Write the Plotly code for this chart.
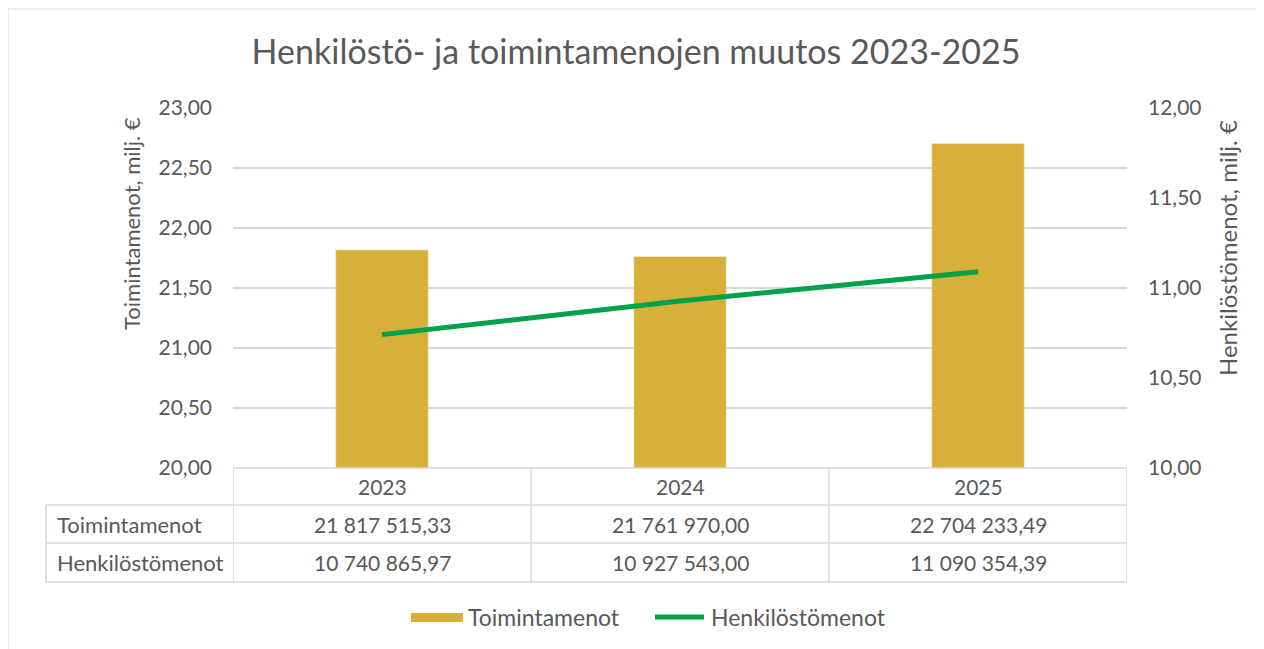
import plotly.graph_objects as go

# Datos del gráfico (euros)
vuodet = ["2023", "2024", "2025"]
toimintamenot = [21817515.33, 21761970.00, 22704233.49]
henkilostomenot = [10740865.97, 10927543.00, 11090354.39]

rivit = ["Toimintamenot", "Henkilöstömenot"]

KULTA = "#D6B038"
VIHREA = "#00A249"
HARMAA = "#595959"
VIIVA = "#D9D9D9"
FONTTI = "Lato, sans-serif"

# Medidas en píxeles de la captura (la página tiene 8 px de margen)
OFF = 8
W, H = 1264 - OFF, 649 - OFF
L, R, T, B = 233, 1127, 108, 468
pw, ph = R - L, B - T


def px_x(x):
    return (x - L) / pw


def px_y(y):
    return (B - y) / ph


def muoto(v):
    # formato finlandés: espacio de miles y coma decimal
    return f"{v:,.2f}".replace(",", " ").replace(".", ",")


fig = go.Figure()

fig.add_trace(go.Bar(
    x=vuodet,
    y=[v / 1e6 for v in toimintamenot],
    name="Toimintamenot",
    marker=dict(color=KULTA),
    width=0.31,
    showlegend=False,
))

fig.add_trace(go.Scatter(
    x=vuodet,
    y=[v / 1e6 for v in henkilostomenot],
    name="Henkilöstömenot",
    mode="lines",
    line=dict(color=VIHREA, width=5),
    yaxis="y2",
    showlegend=False,
))

# Tabla de datos bajo el gráfico
filas_y = [468, 505, 543, 582]
izq = 46
borde = dict(color=VIIVA, width=1.5)
shapes = []
for y in filas_y[1:]:
    shapes.append(dict(type="line", xref="paper", yref="paper",
                       x0=px_x(izq), x1=1, y0=px_y(y), y1=px_y(y), line=borde))
shapes.append(dict(type="line", xref="paper", yref="paper",
                   x0=0, x1=1, y0=0, y1=0, line=borde))
shapes.append(dict(type="line", xref="paper", yref="paper",
                   x0=px_x(izq), x1=px_x(izq), y0=px_y(filas_y[1]), y1=px_y(filas_y[3]),
                   line=borde))
for i in range(len(vuodet) + 1):
    shapes.append(dict(type="line", xref="x", yref="paper",
                       x0=i - 0.5, x1=i - 0.5, y0=0, y1=px_y(filas_y[3]), line=borde))

# Marco exterior
shapes.append(dict(type="rect", xref="paper", yref="paper",
                   x0=px_x(8), x1=px_x(1262), y0=px_y(9), y1=px_y(700),
                   line=dict(color=VIIVA, width=1), layer="below"))

annotations = []
medio = [(filas_y[i] + filas_y[i + 1]) / 2 for i in range(3)]
for i, v in enumerate(vuodet):
    for fila, texto in enumerate([v, muoto(toimintamenot[i]), muoto(henkilostomenot[i])]):
        annotations.append(dict(x=i, y=px_y(medio[fila]), xref="x", yref="paper",
                                text=texto, showarrow=False, yanchor="middle",
                                font=dict(size=21, color=HARMAA)))
for j, r in enumerate(rivit):
    annotations.append(dict(x=px_x(55), y=px_y(medio[j + 1]), xref="paper", yref="paper",
                            text=r, showarrow=False, xanchor="left", yanchor="middle",
                            font=dict(size=22, color=HARMAA)))

# Títulos de los ejes (Excel no los centra exactamente)
annotations.append(dict(x=px_x(131), y=px_y(224), xref="paper", yref="paper",
                        text="Toimintamenot, milj. €", textangle=-90, showarrow=False,
                        xanchor="center", yanchor="middle",
                        font=dict(size=22, color=HARMAA)))
annotations.append(dict(x=px_x(1228), y=px_y(248), xref="paper", yref="paper",
                        text="Henkilöstömenot, milj. €", textangle=-90, showarrow=False,
                        xanchor="center", yanchor="middle",
                        font=dict(size=24, color=HARMAA)))

# Leyenda dibujada a mano (muestra ancha al estilo Excel)
ley_y = px_y(617)
shapes.append(dict(type="rect", xref="paper", yref="paper",
                   x0=px_x(411), x1=px_x(463), y0=px_y(613), y1=px_y(622),
                   fillcolor=KULTA, line=dict(width=0)))
shapes.append(dict(type="line", xref="paper", yref="paper",
                   x0=px_x(655), x1=px_x(704), y0=ley_y, y1=ley_y,
                   line=dict(color=VIHREA, width=5)))
annotations.append(dict(x=px_x(466), y=ley_y, xref="paper", yref="paper",
                        text="Toimintamenot", showarrow=False,
                        xanchor="left", yanchor="middle",
                        font=dict(size=23, color=HARMAA)))
annotations.append(dict(x=px_x(709), y=ley_y, xref="paper", yref="paper",
                        text="Henkilöstömenot", showarrow=False,
                        xanchor="left", yanchor="middle",
                        font=dict(size=23, color=HARMAA)))

fig.update_layout(
    width=W,
    height=H,
    margin=dict(l=L - OFF, r=W - (R - OFF), t=T - OFF, b=H - (B - OFF)),
    paper_bgcolor="white",
    plot_bgcolor="white",
    separators=", ",
    font=dict(family=FONTTI, size=21, color=HARMAA),
    title=dict(text="Henkilöstö- ja toimintamenojen muutos 2023-2025",
               x=0.5, xanchor="center", y=1 - (52 - OFF) / H, yanchor="middle",
               font=dict(size=34, color=HARMAA)),
    xaxis=dict(type="category", showticklabels=False, showgrid=False, ticks="",
               range=[-0.5, 2.5]),
    yaxis=dict(range=[20, 23], dtick=0.5, tickformat=".2f",
               gridcolor=VIIVA, gridwidth=1.5, zeroline=False,
               ticklabelstandoff=20, tickfont=dict(size=21)),
    yaxis2=dict(range=[10, 12], dtick=0.5, tickformat=".2f",
                overlaying="y", side="right", showgrid=False, zeroline=False,
                ticklabelstandoff=20, tickfont=dict(size=21)),
    shapes=shapes,
    annotations=annotations,
)

fig.write_html("out.html")
